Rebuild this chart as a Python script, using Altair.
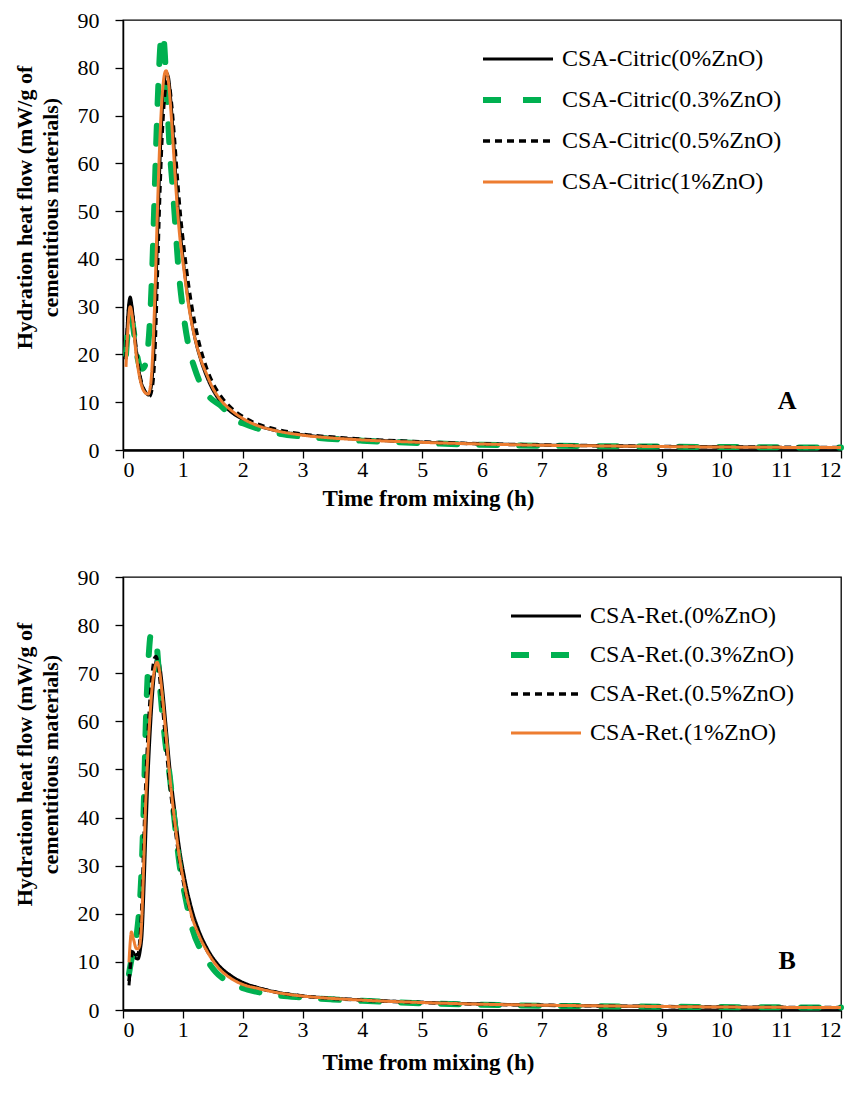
import altair as alt
import pandas as pd

FONT = "Liberation Serif"

# ---------------- Panel A (Citric) ----------------
A_NAMES = ["CSA-Citric(0%ZnO)", "CSA-Citric(0.3%ZnO)", "CSA-Citric(0.5%ZnO)", "CSA-Citric(1%ZnO)"]

a0_t = [0.05, 0.08, 0.12, 0.16, 0.22, 0.30, 0.38, 0.43, 0.47, 0.52, 0.56, 0.60, 0.64, 0.68, 0.72, 0.76, 0.80, 0.85, 0.90, 0.95, 1.00, 1.10, 1.20, 1.30, 1.40, 1.50, 1.65, 1.80, 2.00, 2.25, 2.50, 3.00, 3.50, 4.00, 5.00, 6.00, 7.00, 8.00, 9.00, 10.00, 11.00, 12.00]
a0_v = [20, 28, 32, 29, 21, 14.5, 12, 11.5, 13, 22, 38, 54, 67, 75.5, 79, 78, 73, 64, 54, 46.5, 40.5, 30.5, 23.5, 18.8, 15.3, 12.6, 9.8, 8.0, 6.4, 5.1, 4.2, 3.2, 2.6, 2.2, 1.65, 1.3, 1.05, 0.9, 0.75, 0.65, 0.55, 0.5]

a1_t = [0.05, 0.08, 0.12, 0.16, 0.22, 0.28, 0.32, 0.36, 0.40, 0.44, 0.48, 0.52, 0.56, 0.60, 0.63, 0.655, 0.68, 0.72, 0.78, 0.83, 0.87, 0.92, 1.00, 1.10, 1.20, 1.30, 1.45, 1.62, 1.80, 1.90, 2.00, 2.25, 2.50, 3.00, 3.50, 4.00, 5.00, 6.00, 7.00, 8.00, 9.00, 10.00, 11.00, 12.00]
a1_v = [20, 25, 28, 26.5, 21, 17.5, 17, 17.5, 19.5, 25, 35, 50, 66, 79, 85.5, 87, 86, 78, 63, 55, 48, 39, 29.5, 21.5, 17, 13.8, 11, 9.4, 7.2, 6.0, 5.6, 4.5, 3.7, 2.8, 2.3, 1.95, 1.45, 1.1, 0.9, 0.8, 0.7, 0.62, 0.56, 0.5]

a2_t = [0.05, 0.08, 0.12, 0.16, 0.22, 0.30, 0.38, 0.44, 0.48, 0.53, 0.57, 0.61, 0.65, 0.69, 0.73, 0.77, 0.81, 0.86, 0.91, 0.96, 1.02, 1.10, 1.20, 1.30, 1.40, 1.50, 1.65, 1.80, 2.00, 2.25, 2.50, 3.00, 3.50, 4.00, 5.00, 6.00, 7.00, 8.00, 9.00, 10.00, 11.00, 12.00]
a2_v = [19, 27, 31, 28.5, 21, 14.5, 12, 11.2, 12.5, 20, 35, 52, 65, 73.5, 77, 76.5, 72.5, 65, 56.5, 49, 42, 34, 26.5, 21, 17, 14, 11, 8.9, 7.0, 5.4, 4.5, 3.3, 2.7, 2.25, 1.7, 1.3, 1.05, 0.88, 0.75, 0.65, 0.57, 0.5]

a3_t = [0.05, 0.08, 0.12, 0.16, 0.22, 0.30, 0.37, 0.42, 0.46, 0.50, 0.54, 0.58, 0.62, 0.66, 0.70, 0.72, 0.76, 0.80, 0.85, 0.90, 0.95, 1.00, 1.10, 1.20, 1.30, 1.40, 1.50, 1.65, 1.80, 2.00, 2.25, 2.50, 3.00, 3.50, 4.00, 5.00, 6.00, 7.00, 8.00, 9.00, 10.00, 11.00, 12.00]
a3_v = [17.4, 25, 30, 27.5, 20, 14, 12, 11.7, 13.5, 21, 35, 52, 66, 75, 79, 79.4, 77, 71, 61.5, 52, 44.5, 39.5, 30, 23.5, 19, 15.8, 13, 10.2, 8.4, 6.6, 5.1, 4.2, 3.1, 2.5, 2.1, 1.6, 1.25, 1.0, 0.85, 0.72, 0.62, 0.55, 0.5]

# ---------------- Panel B (Ret.) ----------------
B_NAMES = ["CSA-Ret.(0%ZnO)", "CSA-Ret.(0.3%ZnO)", "CSA-Ret.(0.5%ZnO)", "CSA-Ret.(1%ZnO)"]

b0_t = [0.10, 0.13, 0.17, 0.21, 0.25, 0.29, 0.32, 0.35, 0.38, 0.42, 0.46, 0.50, 0.54, 0.57, 0.61, 0.66, 0.72, 0.79, 0.86, 0.94, 1.03, 1.15, 1.27, 1.40, 1.60, 1.80, 2.05, 2.25, 2.50, 3.00, 3.50, 4.00, 5.00, 6.00, 7.00, 8.00, 9.00, 10.00, 11.00, 12.00]
b0_v = [5.1, 9.5, 12, 10.8, 10.6, 12.5, 16, 25, 36, 49, 59, 66.5, 71.5, 73.4, 72, 67, 59, 49.5, 42, 34, 27.5, 21, 16.5, 13, 9.3, 7.2, 5.5, 4.7, 3.9, 2.95, 2.45, 2.1, 1.6, 1.25, 1.0, 0.85, 0.72, 0.62, 0.55, 0.5]

b1_t = [0.10, 0.15, 0.20, 0.25, 0.28, 0.31, 0.35, 0.38, 0.41, 0.44, 0.46, 0.50, 0.54, 0.57, 0.60, 0.64, 0.70, 0.78, 0.86, 0.94, 1.05, 1.16, 1.30, 1.45, 1.55, 1.80, 2.10, 2.50, 3.00, 3.50, 4.00, 5.00, 6.00, 7.00, 8.00, 9.00, 10.00, 11.00, 12.00]
b1_v = [7.5, 11, 13, 18, 22, 29, 44, 59, 69, 75.5, 77.8, 78, 77, 75, 70, 64, 56.5, 48.7, 39.5, 30.7, 23, 16.8, 12.5, 9.5, 7.9, 5.6, 4.2, 3.2, 2.6, 2.2, 1.9, 1.4, 1.1, 0.9, 0.78, 0.68, 0.6, 0.55, 0.5]

b2_t = [0.10, 0.13, 0.17, 0.21, 0.25, 0.28, 0.31, 0.34, 0.37, 0.41, 0.45, 0.49, 0.53, 0.55, 0.59, 0.64, 0.70, 0.77, 0.85, 0.93, 1.02, 1.14, 1.27, 1.40, 1.60, 1.80, 2.05, 2.25, 2.50, 3.00, 3.50, 4.00, 5.00, 6.00, 7.00, 8.00, 9.00, 10.00, 11.00, 12.00]
b2_v = [6, 10, 12.5, 11.5, 11.5, 14, 20, 31, 43, 55, 64, 70, 73.2, 73.5, 71.5, 66, 58, 48.5, 40, 32.5, 26, 20, 15.8, 12.5, 9, 7, 5.3, 4.6, 3.85, 2.9, 2.4, 2.05, 1.55, 1.2, 1.0, 0.84, 0.72, 0.62, 0.55, 0.5]

b3_t = [0.10, 0.12, 0.14, 0.18, 0.22, 0.25, 0.28, 0.31, 0.34, 0.37, 0.41, 0.45, 0.49, 0.53, 0.57, 0.61, 0.66, 0.72, 0.79, 0.86, 0.94, 1.03, 1.15, 1.27, 1.40, 1.60, 1.80, 2.05, 2.25, 2.50, 3.00, 3.50, 4.00, 5.00, 6.00, 7.00, 8.00, 9.00, 10.00, 11.00, 12.00]
b3_v = [9.9, 14, 16.2, 14.5, 12.8, 12.7, 13.5, 18, 28, 40, 52, 61, 67.5, 71, 72.3, 70.5, 65, 57, 47.5, 39.7, 32, 25.8, 19.5, 15.5, 12.3, 8.7, 6.6, 5.1, 4.5, 3.8, 2.9, 2.4, 2.05, 1.55, 1.2, 1.0, 0.85, 0.72, 0.62, 0.55, 0.5]

# annotation letters
letters = ["A", "B"]
letter_t = [11.1, 11.1]
letter_v = [10.3, 10.2]

# styles
COLORS = ["#000000", "#00b050", "#000000", "#ed7d31"]
DASHES = [[1, 0], [18, 22], [7, 5], [1, 0]]
WIDTHS = [3, 6, 3.5, 3]
CAPS = ["butt", "round", "butt", "butt"]


def panel(names, series, letter, lt, lv, legend_x, legend_y, legend_row_pad, xtitle_y, width, height):
    rows = []
    for name, (ts, vs) in zip(names, series):
        for t, v in zip(ts, vs):
            rows.append({"t": t, "v": v, "s": name})
    df = pd.DataFrame(rows)

    leg = alt.Legend(
        title=None, orient="none", legendX=legend_x, legendY=legend_y,
        symbolType="stroke", symbolSize=4900, clipHeight=24,
        rowPadding=legend_row_pad, labelFont=FONT, labelFontSize=24, labelColor="black",
        labelLimit=500, labelOffset=6, padding=0,
    )
    xax = alt.Axis(
        values=list(range(13)), format="d", title="Time from mixing (h)", grid=False,
        labelFont=FONT, labelFontSize=22, labelColor="black", labelPadding=1,
        tickSize=8, tickColor="black", tickWidth=1.3,
        domainColor="black", domainWidth=2.5,
        titleFont=FONT, titleFontSize=23, titleFontWeight="bold", titleColor="black",
        titleX=305, titleY=xtitle_y, titleAlign="center", titleBaseline="middle", titleAnchor="start",
    )
    yax = alt.Axis(
        values=list(range(0, 91, 10)),
        title=["Hydration heat flow (mW/g of", "cementitious materials)"], grid=False,
        labelFont=FONT, labelFontSize=22, labelColor="black", labelPadding=16,
        tickSize=8, tickColor="black", tickWidth=1.3,
        domainColor="black", domainWidth=1.5,
        titleFont=FONT, titleFontSize=22, titleFontWeight="bold", titleColor="black",
        titleX=-99, titleY=187, titleAlign="center", titleBaseline="middle",
        titleLineHeight=26, titleAngle=270, titleAnchor="start",
    )
    base = alt.Chart(df).encode(
        x=alt.X("t:Q", scale=alt.Scale(domain=[0, 12], nice=False), axis=xax),
        y=alt.Y("v:Q", scale=alt.Scale(domain=[0, 90], nice=False), axis=yax),
        color=alt.Color("s:N", scale=alt.Scale(domain=names, range=COLORS), legend=leg),
        strokeDash=alt.StrokeDash("s:N", scale=alt.Scale(domain=names, range=DASHES), legend=leg),
        strokeWidth=alt.StrokeWidth("s:N", scale=alt.Scale(type="ordinal", domain=names, range=WIDTHS), legend=leg),
    )
    layers = []
    for name, cap in zip(names, CAPS):
        layers.append(
            base.transform_filter(alt.datum.s == name).mark_line(interpolate="monotone", strokeCap=cap)
        )
    ldf = pd.DataFrame({"t": [lt], "v": [lv], "lab": [letter]})
    txt = alt.Chart(ldf).mark_text(
        font=FONT, fontSize=26, fontWeight="bold", color="black", align="center", baseline="middle"
    ).encode(x="t:Q", y="v:Q", text="lab:N")
    return alt.layer(*layers, txt).properties(width=width, height=height)


top = panel(A_NAMES, [(a0_t, a0_v), (a1_t, a1_v), (a2_t, a2_v), (a3_t, a3_v)],
            letters[0], letter_t[0], letter_v[0], 357, 27, 17, 48, 718, 430)
bot = panel(B_NAMES, [(b0_t, b0_v), (b1_t, b1_v), (b2_t, b2_v), (b3_t, b3_v)],
            letters[1], letter_t[1], letter_v[1], 385, 27, 15, 52, 718, 433)

chart = alt.vconcat(top, bot, spacing=127, bounds="flush").resolve_scale(
    color="independent", strokeDash="independent", strokeWidth="independent"
).properties(padding={"left": 4, "top": 0, "right": 0, "bottom": 0}).configure_view(
    stroke="black", strokeWidth=1.3
)

chart.save("out.html", embed_options={"renderer": "svg", "actions": False})
